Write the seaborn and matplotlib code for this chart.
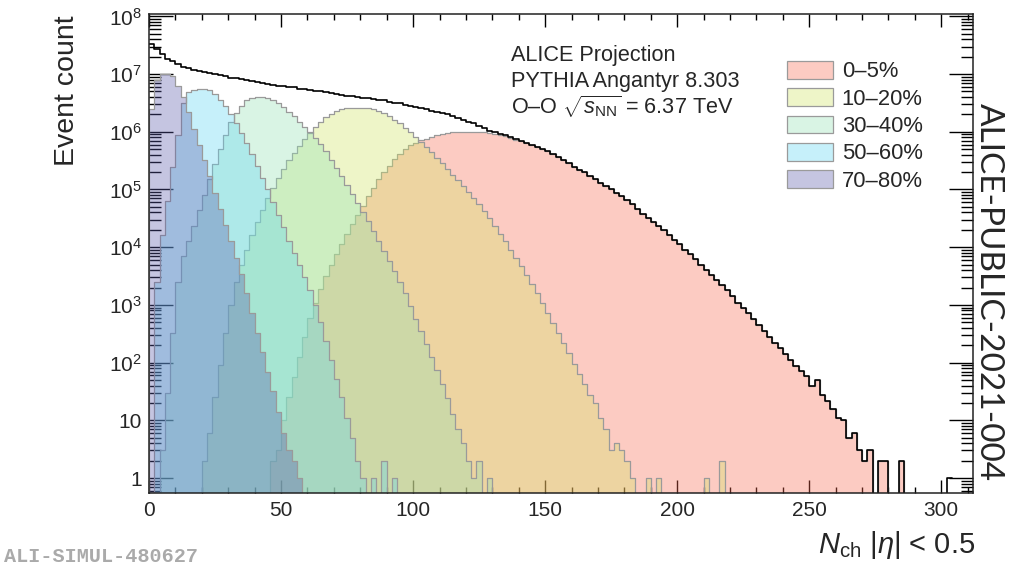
import numpy as np
import matplotlib
matplotlib.use("Agg")
import matplotlib.pyplot as plt
import seaborn as sns
from matplotlib.patches import Patch
from matplotlib.colors import to_rgba
from matplotlib.ticker import MultipleLocator, LogLocator, FuncFormatter, NullFormatter

# ---------------- data (counts per 2-unit N_ch bin) ----------------
BIN_WIDTH = 2
bin_edges = np.arange(0, 314, BIN_WIDTH)

class_labels = ["0–5%", "10–20%", "30–40%", "50–60%", "70–80%"]

start_0_5 = 46
counts_0_5 = [2, 3, 10, 25, 56, 126, 280, 590, 1.1e3, 1.9e3, 3.2e3, 5.0e3, 7.6e3, 1.15e4,
              1.7e4, 2.5e4, 3.6e4, 5.2e4, 7.6e4, 1.07e5, 1.5e5, 2.0e5, 2.6e5, 3.4e5, 4.2e5,
              5.0e5, 5.8e5, 6.5e5, 7.1e5, 7.6e5, 8.1e5, 8.7e5, 9.1e5, 9.5e5, 9.8e5, 1.0e6,
              1.0e6, 1.0e6, 1.0e6, 1.0e6, 9.8e5, 9.5e5, 9.1e5, 8.7e5, 8.3e5, 7.8e5, 7.2e5,
              6.8e5, 6.3e5, 5.9e5, 5.5e5, 5.0e5, 4.6e5, 4.1e5, 3.6e5, 3.2e5, 2.9e5, 2.5e5,
              2.2e5, 2.0e5, 1.74e5, 1.5e5, 1.3e5, 1.15e5, 1.0e5, 8.7e4, 7.6e4, 6.5e4, 5.5e4,
              4.6e4, 3.8e4, 3.2e4, 2.75e4, 2.3e4, 1.95e4, 1.6e4, 1.35e4, 1.12e4, 9.1e3,
              7.6e3, 6.2e3, 5.0e3, 4.1e3, 3.3e3, 2.7e3, 2.2e3, 1.8e3, 1.4e3, 1.1e3, 890,
              710, 560, 450, 350, 280, 220, 180, 140, 110, 89, 71, 58, 40, 50, 28, 22, 16,
              11, 10, 5, 6, 3, 2, 3, 0, 2, 2, 0, 0, 2]

start_10_20 = 20
counts_10_20 = [2, 6, 25, 90, 320, 1.0e3, 2.5e3, 5.0e3, 8.9e3, 1.6e4, 2.7e4, 4.5e4, 7.2e4,
                1.07e5, 1.6e5, 2.3e5, 3.2e5, 4.3e5, 5.6e5, 7.4e5, 9.5e5, 1.2e6, 1.5e6,
                1.8e6, 2.0e6, 2.3e6, 2.45e6, 2.6e6, 2.6e6, 2.6e6, 2.6e6, 2.6e6, 2.45e6,
                2.3e6, 2.1e6, 1.9e6, 1.6e6, 1.4e6, 1.17e6, 9.8e5, 8.1e5, 6.6e5, 5.4e5,
                4.4e5, 3.5e5, 2.9e5, 2.3e5, 1.8e5, 1.45e5, 1.15e5, 9.1e4, 7.2e4, 5.6e4,
                4.3e4, 3.2e4, 2.3e4, 1.7e4, 1.26e4, 9.1e3, 6.6e3, 4.7e3, 3.3e3, 2.3e3,
                1.6e3, 1.07e3, 720, 490, 330, 220, 145, 95, 63, 42, 28, 20, 11, 7, 3, 4, 3,
                2, 1, 0, 0, 1, 0, 1, 0, 0, 0, 0, 0, 0, 0, 0, 1, 0, 0, 2]

start_30_40 = 4
counts_30_40 = [3, 30, 320, 2.5e3, 7.1e3, 1.26e4, 2.3e4, 4.4e4, 8.1e4, 1.5e5, 2.8e5, 5.1e5,
                8.9e5, 1.5e6, 2.1e6, 2.8e6, 3.5e6, 3.8e6, 4.0e6, 4.0e6, 3.9e6, 3.5e6,
                3.2e6, 2.7e6, 2.2e6, 1.9e6, 1.5e6, 1.2e6, 1.0e6, 7.9e5, 6.2e5, 4.6e5,
                3.3e5, 2.4e5, 1.7e5, 1.2e5, 8.3e4, 5.8e4, 4.0e4, 2.8e4, 1.9e4, 1.3e4,
                8.7e3, 5.8e3, 3.8e3, 2.5e3, 1.6e3, 950, 580, 350, 210, 126, 74, 43, 24, 13,
                7, 4, 2, 1, 2, 0, 1]

start_50_60 = 2
counts_50_60 = [2.5e3, 1.6e4, 6.3e4, 2.5e5, 8.9e5, 3.2e6, 4.8e6, 5.4e6, 5.6e6, 5.6e6, 5.2e6,
                4.6e6, 3.6e6, 2.8e6, 2.0e6, 1.4e6, 9.5e5, 6.3e5, 4.1e5, 2.6e5, 1.6e5,
                1.0e5, 6.0e4, 3.6e4, 2.2e4, 1.3e4, 7.9e3, 5.0e3, 3.0e3, 1.8e3, 1.0e3, 500,
                240, 110, 52, 25, 11, 5, 2, 1, 0, 1, 0, 2, 0, 1]

start_70_80 = 0
counts_70_80 = [2.5e6, 8.0e6, 1.0e7, 1.0e7, 9.3e6, 6.3e6, 4.0e6, 2.2e6, 1.1e6, 5.9e5, 3.2e5,
                1.7e5, 8.7e4, 4.6e4, 2.4e4, 1.26e4, 6.6e3, 3.5e3, 1.6e3, 720, 330, 150, 70,
                32, 14, 6, 3, 2, 1]

start_total = 0
counts_total = [3.3e7, 2.75e7, 2.2e7, 1.86e7, 1.66e7, 1.48e7, 1.35e7, 1.26e7, 1.2e7, 1.15e7,
                1.1e7, 1.05e7, 1.0e7, 9.5e6, 9.1e6, 8.7e6, 8.5e6, 8.1e6, 7.9e6, 7.6e6,
                7.2e6, 7.1e6, 6.8e6, 6.6e6, 6.3e6, 6.2e6, 6.0e6, 5.9e6, 5.6e6, 5.5e6,
                5.4e6, 5.1e6, 5.0e6, 4.8e6, 4.7e6, 4.5e6, 4.4e6, 4.2e6, 4.1e6, 4.0e6,
                3.9e6, 3.8e6, 3.7e6, 3.6e6, 3.5e6, 3.3e6, 3.2e6, 3.1e6, 2.95e6, 2.8e6,
                2.7e6, 2.6e6, 2.45e6, 2.3e6, 2.2e6, 2.1e6, 2.0e6, 1.86e6, 1.74e6, 1.6e6,
                1.5e6, 1.4e6, 1.26e6, 1.15e6, 1.05e6, 1.0e6, 9.3e5, 8.7e5, 8.1e5, 7.5e5,
                7.0e5, 6.5e5, 5.9e5, 5.5e5, 5.0e5, 4.6e5, 4.1e5, 3.6e5, 3.2e5, 2.9e5,
                2.5e5, 2.2e5, 2.0e5, 1.74e5, 1.5e5, 1.3e5, 1.15e5, 1.0e5, 8.7e4, 7.6e4,
                6.5e4, 5.5e4, 4.6e4, 3.8e4, 3.2e4, 2.75e4, 2.3e4, 1.95e4, 1.6e4, 1.35e4,
                1.12e4, 9.1e3, 7.6e3, 6.2e3, 5.0e3, 4.1e3, 3.3e3, 2.7e3, 2.2e3, 1.8e3,
                1.4e3, 1.1e3, 890, 710, 560, 450, 350, 280, 220, 180, 140, 110, 89, 71, 58,
                40, 50, 28, 22, 16, 11, 10, 5, 6, 3, 2, 3, 0, 2, 2, 0, 0, 2, 0, 0, 0, 0, 0,
                0, 0, 0, 1]

# ---------------- style ----------------
W, H = 1012, 574
ALPHA = 0.35
EDGE = "#9a9a9a"
colors = {"0–5%": "#f96a50", "10–20%": "#d1e564", "30–40%": "#92e2b4",
          "50–60%": "#5ed6f3", "70–80%": "#5b5bab"}

sns.set_style("ticks")
plt.rcParams["font.family"] = ["Liberation Sans", "DejaVu Sans"]
plt.rcParams["mathtext.fontset"] = "custom"
plt.rcParams["mathtext.rm"] = "Liberation Sans"
plt.rcParams["mathtext.it"] = "Liberation Sans:italic"
plt.rcParams["mathtext.bf"] = "Liberation Sans:bold"

fig = plt.figure(figsize=(W / 100, H / 100), dpi=100)
ax = fig.add_axes([149 / W, 1 - 493 / H, (973 - 149) / W, (493 - 14) / H])
ax.set_yscale("log")


def hist_frame(start, counts):
    counts = np.asarray(counts, dtype=float)
    i0 = start // BIN_WIDTH
    edges = bin_edges[i0:i0 + len(counts) + 1]
    centers = 0.5 * (edges[:-1] + edges[1:])
    return centers, counts, (float(edges[0]), float(edges[-1]))


def draw_class(start, counts, color):
    centers, w, brange = hist_frame(start, counts)
    sns.histplot(x=centers, weights=w, bins=len(w), binrange=brange, element="step",
                 fill=True, color=color, alpha=ALPHA, edgecolor=EDGE, linewidth=0.9, ax=ax)


draw_class(start_0_5, counts_0_5, colors["0–5%"])
draw_class(start_10_20, counts_10_20, colors["10–20%"])
draw_class(start_30_40, counts_30_40, colors["30–40%"])
draw_class(start_50_60, counts_50_60, colors["50–60%"])
draw_class(start_70_80, counts_70_80, colors["70–80%"])

tc, tw, tr = hist_frame(start_total, counts_total)
sns.histplot(x=tc, weights=tw, bins=len(tw), binrange=tr, element="step", fill=False,
             color="black", linewidth=1.2, ax=ax)

ax.set_xlim(0, 312)
ax.set_ylim(0.55, 1.1e8)
ax.set_xlabel("")
ax.set_ylabel("")
ax.set_axisbelow(True)

ax.xaxis.set_major_locator(MultipleLocator(50))
ax.xaxis.set_minor_locator(MultipleLocator(10))
ax.yaxis.set_major_locator(LogLocator(base=10, numticks=20))
ax.yaxis.set_minor_locator(LogLocator(base=10, subs=np.arange(2, 10), numticks=20))
ax.yaxis.set_minor_formatter(NullFormatter())


def yfmt(v, pos):
    e = int(round(np.log10(v)))
    if e == 0:
        return "1"
    if e == 1:
        return "10"
    return r"$10^{%d}$" % e


ax.yaxis.set_major_formatter(FuncFormatter(yfmt))

ax.tick_params(axis="both", which="both", direction="in", top=True, right=True,
               color="black", labelsize=15)
ax.tick_params(axis="x", which="major", length=9.5, width=1.0, pad=6)
ax.tick_params(axis="x", which="minor", length=4.5, width=1.0)
ax.tick_params(axis="y", which="major", length=17, width=1.0, pad=5)
ax.tick_params(axis="y", which="minor", length=8.5, width=1.0)
for s in ax.spines.values():
    s.set_linewidth(1.1)
    s.set_color("#222222")

# texts
fig.text(67 / W, 1 - 15 / H, "Event count", rotation=90, ha="center", va="top",
         fontsize=20.5)
fig.text(975 / W, 1 - 553 / H, r"$N_{\mathrm{ch}}$ $|\eta|$ < 0.5", ha="right",
         va="baseline", fontsize=21)
fig.text(511 / W, 1 - 61 / H, "ALICE Projection", fontsize=15.6, va="baseline")
fig.text(511 / W, 1 - 87 / H, "PYTHIA Angantyr 8.303", fontsize=15.6, va="baseline")
fig.text(511 / W, 1 - 114 / H, r"O–O $\sqrt{s_{\mathrm{NN}}}$ = 6.37 TeV", fontsize=15.6,
         va="baseline")
fig.text(989 / W, 1 - 292 / H, "ALICE-PUBLIC-2021-004", rotation=270, ha="center",
         va="center", fontsize=24, family=["Lato", "DejaVu Sans"])
fig.text(4 / W, 1 - 557 / H, "ALI-SIMUL-480627", family="Liberation Mono",
         fontweight="bold", color="#aaaaaa", fontsize=14.5, va="center", ha="left")

handles = [Patch(facecolor=to_rgba(colors[c], ALPHA), edgecolor=EDGE, linewidth=0.9)
           for c in class_labels]
fig.legend(handles, class_labels, loc="upper left", bbox_to_anchor=(787 / W, 1 - 61 / H),
           frameon=False, fontsize=15.8, handlelength=2.1, handleheight=0.86,
           handletextpad=0.4, labelspacing=0.27, borderpad=0, borderaxespad=0)

fig.savefig("out.png", dpi=100)
